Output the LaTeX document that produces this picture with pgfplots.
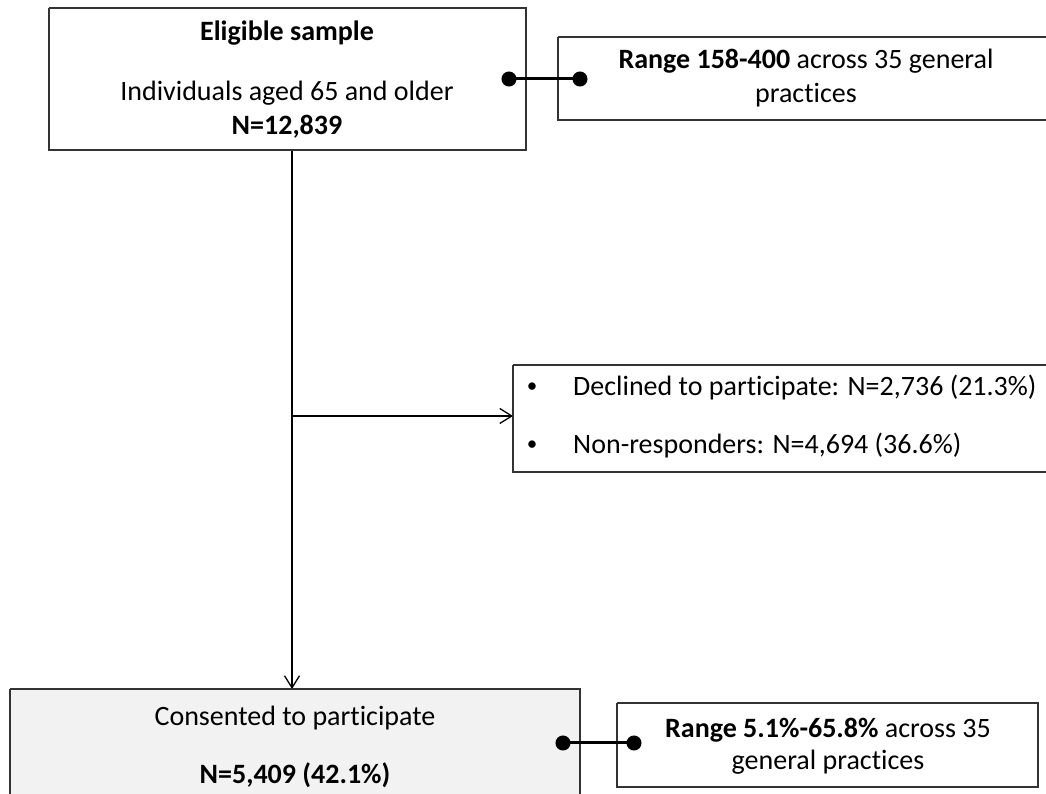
\documentclass[border=0pt]{standalone}
\usepackage{fontspec}
\setmainfont{Carlito}[Ligatures=NoCommon]
\usepackage{pgfplots}
\pgfplotsset{compat=1.18}
\usetikzlibrary{arrows.meta}

\definecolor{edge}{HTML}{333333}
\definecolor{boxfill}{HTML}{F2F2F2}

\begin{document}
\begin{tikzpicture}[lbl/.style={font=\fontsize{28}{33}\selectfont, text=black, inner sep=0pt}]
\begin{axis}[
    x=1pt, y=1pt,
    xmin=0, xmax=1046, ymin=0, ymax=794,
    hide axis,
    clip=true,
]
% frame for the page size
\path (rel axis cs:0,0) rectangle (rel axis cs:1,1);

% flow lines
\addplot[black, line width=1.3pt, -{Straight Barb[length=12pt,width=15pt,line width=1.3pt]}]
    coordinates {(292,644) (292,105)};
\addplot[black, line width=1.3pt, -{Straight Barb[length=12pt,width=15pt,line width=1.3pt]}]
    coordinates {(292,378) (513,378)};

% boxes
\addplot[edge, line width=2pt, fill=white] coordinates {(49,786) (526,786) (526,644) (49,644) (49,786)};
\addplot[edge, line width=2pt, fill=white] coordinates {(558,757) (1060,757) (1060,674) (558,674) (558,757)};
\addplot[edge, line width=2pt, fill=white] coordinates {(513,429) (1060,429) (1060,322) (513,322) (513,429)};
\addplot[edge, line width=2pt, fill=boxfill] coordinates {(10,105) (580,105) (580,-10) (10,-10) (10,105)};
\addplot[edge, line width=2pt, fill=white] coordinates {(617,91) (1038,91) (1038,7) (617,7) (617,91)};

% connectors
\addplot[black, line width=3pt, mark=*, mark size=6pt, mark options={fill=black}]
    coordinates {(509,715) (580,715)};
\addplot[black, line width=3pt, mark=*, mark size=6pt, mark options={fill=black}]
    coordinates {(563,51) (634,51)};

% texts
\node[lbl] at (axis cs:287,761) {\textbf{Eligible sample}};
\node[lbl] at (axis cs:287,701) {Individuals aged 65 and older};
\node[lbl] at (axis cs:287,667) {\textbf{N=12,839}};

\node[lbl] at (axis cs:806,733) {\textbf{Range 158-400} across 35 general};
\node[lbl] at (axis cs:806,699) {practices};

\node[lbl, font=\fontsize{21}{25}\selectfont] at (axis cs:532,406) {\textbullet};
\node[lbl, anchor=west] at (axis cs:573,406) {Declined to participate: N=2,736 (21.3\%)};
\node[lbl, font=\fontsize{21}{25}\selectfont] at (axis cs:532,348) {\textbullet};
\node[lbl, anchor=west] at (axis cs:573,348) {Non-responders: N=4,694 (36.6\%)};

\node[lbl] at (axis cs:295,76) {Consented to participate};
\node[lbl] at (axis cs:295,19) {\textbf{N=5,409 (42.1\%)}};

\node[lbl] at (axis cs:828,64) {\textbf{Range 5.1\%-65.8\%} across 35};
\node[lbl] at (axis cs:828,32) {general practices};
\end{axis}
\end{tikzpicture}
\end{document}
